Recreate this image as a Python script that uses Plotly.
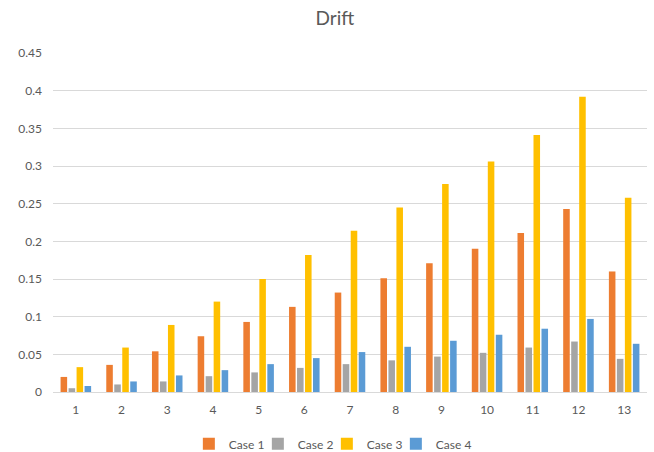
import plotly.graph_objects as go

# Drift per step for the four load cases
steps = ["1", "2", "3", "4", "5", "6", "7", "8", "9", "10", "11", "12", "13"]
case1 = [0.020, 0.036, 0.054, 0.074, 0.093, 0.113, 0.132, 0.151, 0.171, 0.190, 0.211, 0.243, 0.160]
case2 = [0.005, 0.010, 0.014, 0.021, 0.026, 0.032, 0.037, 0.042, 0.047, 0.052, 0.059, 0.067, 0.044]
case3 = [0.033, 0.059, 0.089, 0.120, 0.150, 0.182, 0.214, 0.245, 0.276, 0.306, 0.341, 0.392, 0.258]
case4 = [0.008, 0.014, 0.022, 0.029, 0.037, 0.045, 0.053, 0.060, 0.068, 0.076, 0.084, 0.097, 0.064]

series_names = ["Case 1", "Case 2", "Case 3", "Case 4"]
series_colors = ["#ED7D31", "#A5A5A5", "#FFC000", "#5B9BD5"]

y_ticks = [0, 0.05, 0.1, 0.15, 0.2, 0.25, 0.3, 0.35, 0.4, 0.45]
y_tick_labels = ["0", "0.05", "0.1", "0.15", "0.2", "0.25", "0.3", "0.35", "0.4", "0.45"]

FONT = "Lato, Calibri, Carlito, sans-serif"
TEXT = "#595959"
GRID = "#D9D9D9"

fig = go.Figure()
all_series = [case1, case2, case3, case4]
for i, (name, color, vals) in enumerate(zip(series_names, series_colors, all_series)):
    # compact legend entries; the last one keeps room for its full label
    entry_w = 40 if i == len(all_series) - 1 else 24
    fig.add_trace(go.Bar(
        x=steps, y=vals, name=name,
        marker=dict(color=color, line=dict(width=0)),
        legendwidth=entry_w,
    ))

fig.update_layout(
    width=654, height=452,
    margin=dict(l=53, r=7, t=53, b=60, autoexpand=False),
    paper_bgcolor="white", plot_bgcolor="white",
    barmode="group", bargap=0.3, bargroupgap=0.18,
    font=dict(family=FONT, size=12, color=TEXT),
    title=dict(text="Drift", x=0.512, xanchor="center", y=0.96, yanchor="middle",
               font=dict(family=FONT, size=19, color=TEXT)),
    xaxis=dict(
        showgrid=False, showline=True, linecolor=GRID, linewidth=1,
        ticks="", tickfont=dict(size=12, color=TEXT), ticklabelstandoff=7,
    ),
    yaxis=dict(
        range=[0, 0.45], tickvals=y_ticks, ticktext=y_tick_labels,
        showgrid=True, gridcolor=GRID, gridwidth=1, zeroline=False,
        showline=False, ticks="", tickfont=dict(size=12, color=TEXT),
        ticklabelstandoff=10,
    ),
    legend=dict(
        orientation="h", xref="container", yref="paper",
        x=0.512, xanchor="center", y=-0.153, yanchor="middle",
        font=dict(size=12, color=TEXT), itemwidth=30,
        traceorder="normal",
    ),
)

fig.write_html("out.html")
